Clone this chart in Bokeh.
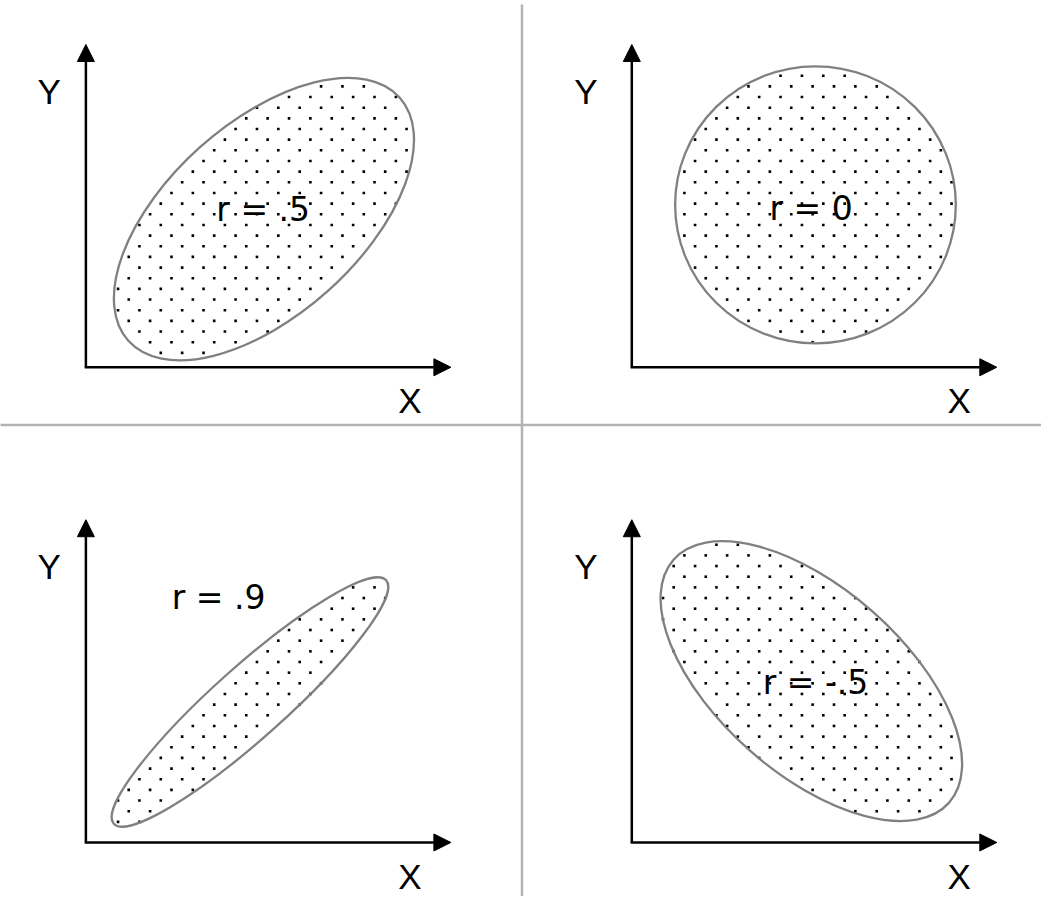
import numpy as np
from bokeh.plotting import figure
from bokeh.models import Range1d, Arrow, NormalHead
from bokeh.core.properties import value
from bokeh.embed import file_html
from bokeh.resources import INLINE

# ---- data (panel-local units, origin = axes corner) ----
r_labels = ["r = .5", "r = 0", "r = .9", "r = -.5"]
ell_cx = [180.8, 186.5, 166.6, 182.3]
ell_cy = [150.8, 165.3, 143.0, 164.2]
ell_w = [370.0, 285.0, 371.0, 373.0]
ell_h = [196.0, 282.0, 73.0, 189.0]
ell_angle_deg = [41.9, 0.0, 41.8, -41.4]
# label centres (middle of the glyphs)
lab_x = [180.0, 182.0, 134.7, 186.5]
lab_y = [160.3, 162.0, 249.0, 163.3]
axis_x_name = ["X", "X", "X", "X"]
axis_y_name = ["Y", "Y", "Y", "Y"]

# ---- layout (reference picture is 1057 x 912; canvas is scaled to fit) ----
W, H = 1041, 896
RW, RH = 1057, 912
panel_ox = [86.7, 641.0, 86.7, 641.0]
panel_oy = [538.7, 538.7, 55.0, 55.0]
ylab_dx = [-37.2, -46.5, -37.2, -46.5]
ylab_dy = 281.0
xlab_dx = [329.0, 332.3, 329.0, 332.3]
xlab_dy = -34.2
x_len, y_len = 370.6, 328.5
dot_dx, dot_dy = 21.7, 10.85

p = figure(width=W, height=H, x_range=Range1d(0, RW), y_range=Range1d(0, RH),
           x_axis_type=None, y_axis_type=None, toolbar_location=None,
           output_backend="svg", min_border=0, outline_line_color=None,
           background_fill_color="white", border_fill_color="white")
p.grid.visible = False

# dividers
p.segment(x0=[529.5, -10], y0=[908, 480], x1=[529.5, RW + 10], y1=[-10, 480],
          line_color="#b3b3b3", line_width=2.5)

font_xy = value("Liberation Sans")
font_r = value("DejaVu Sans")
for i in range(4):
    ox, oy = panel_ox[i], panel_oy[i]
    cx, cy = ox + ell_cx[i], oy + ell_cy[i]
    a, b = ell_w[i] / 2, ell_h[i] / 2
    th = np.deg2rad(ell_angle_deg[i])
    # dotted fill pattern (staggered lattice)
    xs, ys = [], []
    j0 = int((cy - 200) // dot_dy)
    for j in range(j0, j0 + 60):
        y = j * dot_dy
        off = (j % 2) * dot_dx / 2
        k0 = int((cx - 200) // dot_dx)
        for k in range(k0, k0 + 22):
            x = k * dot_dx + off
            dx, dy = x - cx, y - cy
            u = dx * np.cos(th) + dy * np.sin(th)
            v = -dx * np.sin(th) + dy * np.cos(th)
            if (u / a) ** 2 + (v / b) ** 2 <= 0.995:
                xs.append(x)
                ys.append(y)
    p.scatter(xs, ys, marker="square", size=2.6, fill_color="black", line_color=None)
    p.ellipse(x=[cx], y=[cy], width=[ell_w[i]], height=[ell_h[i]], angle=[th],
              fill_color=None, line_color="#808080", line_width=2.3)
    # axes with arrows
    p.add_layout(Arrow(x_start=ox, y_start=oy, x_end=ox, y_end=oy + y_len,
                       line_width=2.5, line_color="black",
                       end=NormalHead(size=17, fill_color="black", line_color="black", line_width=1)))
    p.add_layout(Arrow(x_start=ox - 1.2, y_start=oy, x_end=ox + x_len, y_end=oy,
                       line_width=2.5, line_color="black",
                       end=NormalHead(size=17, fill_color="black", line_color="black", line_width=1)))
    p.text(x=[ox + lab_x[i]], y=[oy + lab_y[i]], text=[r_labels[i]], text_font=font_r,
           text_font_size="33px", text_align="center", text_baseline="middle",
           text_color="black")
    p.text(x=[ox + ylab_dx[i]], y=[oy + ylab_dy], text=[axis_y_name[i]], text_font=font_xy,
           text_font_size="35px", text_align="center", text_baseline="middle",
           text_color="black")
    p.text(x=[ox + xlab_dx[i]], y=[oy + xlab_dy], text=[axis_x_name[i]], text_font=font_xy,
           text_font_size="35px", text_align="center", text_baseline="middle",
           text_color="black")

open("out.html", "w").write(file_html(p, INLINE))
